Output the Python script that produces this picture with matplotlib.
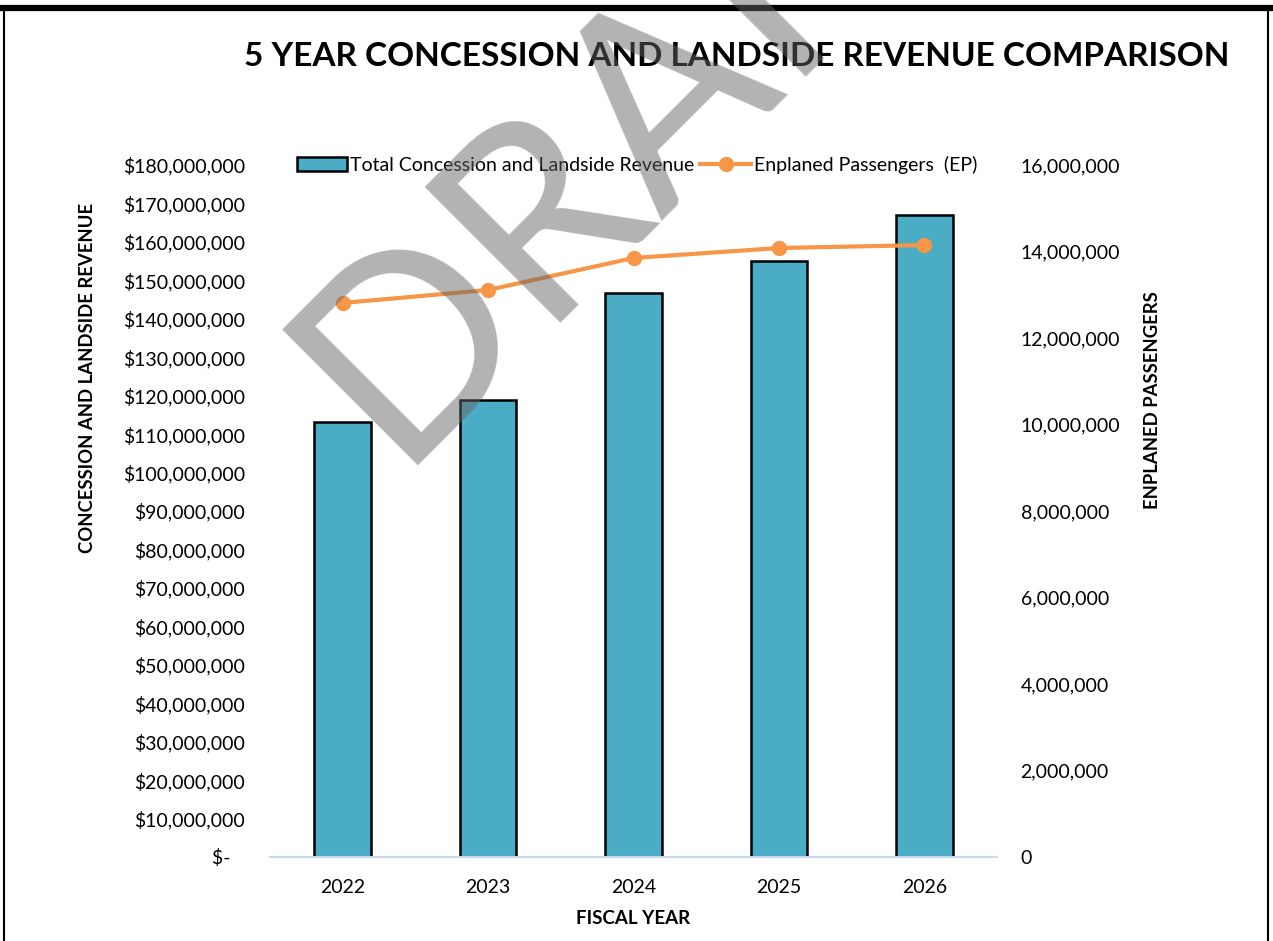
import matplotlib
matplotlib.use("Agg")
import matplotlib.pyplot as plt
from matplotlib.lines import Line2D
from matplotlib.ticker import FuncFormatter, MultipleLocator

plt.rcParams['font.family'] = ['Lato', 'DejaVu Sans']

years = ['2022', '2023', '2024', '2025', '2026']
revenue = [113200000, 118900000, 146700000, 155000000, 167000000]
passengers = [12810000, 13110000, 13850000, 14080000, 14150000]

bar_color = '#4BACC6'
line_color = '#F79646'

fig = plt.figure(figsize=(12.73, 9.41), dpi=100)
ax = fig.add_axes([270 / 1273, 1 - 857 / 941, 727 / 1273, 692 / 941])
ax2 = ax.twinx()

x = range(len(years))
bars = ax.bar(x, revenue, width=0.39, color=bar_color, edgecolor='black',
              linewidth=1.8, label='Total Concession and Landside Revenue', zorder=2)
line, = ax2.plot(x, passengers, color=line_color, linewidth=3, marker='o',
                 markersize=10, label='Enplaned Passengers  (EP)')

ax.set_xlim(-0.5, 4.5)
ax.set_ylim(0, 180000000)
ax2.set_ylim(0, 16000000)
ax.yaxis.set_major_locator(MultipleLocator(10000000))
ax2.yaxis.set_major_locator(MultipleLocator(2000000))


def money(v, pos):
    if v == 0:
        return '$-   '
    return '${:,.0f}'.format(v)


ax.yaxis.set_major_formatter(FuncFormatter(money))
ax2.yaxis.set_major_formatter(FuncFormatter(lambda v, p: '{:,.0f}'.format(v)))

ax.set_xticks(list(x))
ax.set_xticklabels(years)
for a in (ax, ax2):
    for s in a.spines.values():
        s.set_visible(False)
    a.tick_params(length=0, labelsize=14, colors='black')
ax.spines['bottom'].set_visible(True)
ax.spines['bottom'].set_color('#C6D9F0')
ax.spines['bottom'].set_linewidth(1.5)
ax.tick_params(axis='y', pad=18)
ax.tick_params(axis='x', pad=16)
ax2.tick_params(axis='y', pad=17)

ax.set_xlabel('FISCAL YEAR', fontsize=13.5, fontweight='bold', labelpad=10)

fig.text(88 / 1273, 1 - 378 / 941, 'CONCESSION AND LANDSIDE REVENUE', rotation=90,
         ha='center', va='center', fontsize=13.3, fontweight='bold')
fig.text(1152 / 1273, 1 - 400 / 941, 'ENPLANED PASSENGERS', rotation=90,
         ha='center', va='center', fontsize=13.3, fontweight='bold')

fig.text(737 / 1273, 1 - 56 / 941, '5 YEAR CONCESSION AND LANDSIDE REVENUE COMPARISON',
         ha='center', va='center', fontsize=24, fontweight='bold')

ax.legend(handles=[bars, line], loc='center', bbox_to_anchor=(0.505, 1.0), ncol=2,
          frameon=False, fontsize=14, handlelength=2.6, handletextpad=0.15,
          columnspacing=0.3, borderaxespad=0)

# DRAFT watermark
fig.text(394 / 1273, 1 - 466 / 941, 'DRAFT', rotation=45, rotation_mode='anchor',
         ha='left', va='baseline', fontsize=192, color='#646464', alpha=0.49, zorder=10)

# frame around the chart
fig.add_artist(Line2D([0, 1], [1 - 8 / 941, 1 - 8 / 941], color='black', linewidth=4.5))
fig.add_artist(Line2D([4 / 1273, 4 / 1273], [0, 1 - 8 / 941], color='black', linewidth=1.5))
fig.add_artist(Line2D([1268 / 1273, 1268 / 1273], [0, 1 - 8 / 941], color='black', linewidth=1.5))

fig.savefig('out.png', dpi=100)
